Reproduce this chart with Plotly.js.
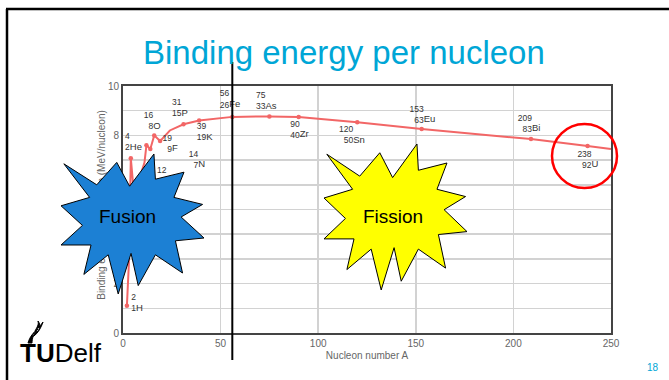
<!DOCTYPE html>
<html><head><meta charset="utf-8">
<script src="https://cdn.plot.ly/plotly-3.0.1.min.js"></script>
<style>html,body{margin:0;padding:0;background:#fff;overflow:hidden}#chart{width:669px;height:380px}</style>
</head><body><div id="chart"></div>
<script>
// ---- data ----
const curveA = [2, 3, 4, 6, 7, 9, 11, 12, 14, 16, 19, 24, 31, 39, 56, 75, 90, 120, 153, 209, 238, 250];
const curveB = [1.1, 2.8, 7.07, 5.3, 5.6, 6.4, 6.9, 7.6, 7.45, 8.0, 7.77, 8.2, 8.45, 8.6, 8.75, 8.77, 8.74, 8.53, 8.26, 7.85, 7.57, 7.45];
const isoA = [2, 4, 12, 14, 16, 19, 31, 39, 56, 75, 90, 120, 153, 209, 238];
const isoZ = [1, 2, 6, 7, 8, 9, 15, 19, 26, 33, 40, 50, 63, 83, 92];
const isoSym = ['H', 'He', 'C', 'N', 'O', 'F', 'P', 'K', 'Fe', 'As', 'Zr', 'Sn', 'Eu', 'Bi', 'U'];
const xTickVals = [0, 50, 100, 150, 200, 250];
const yTickVals = [0, 1, 2, 3, 4, 5, 6, 7, 8, 9, 10];
const yTickText = ['0', '', '2', '', '4', '', '6', '', '8', '', '10'];
const chartTitle = 'Binding energy per nucleon';
const xTitle = 'Nucleon number A';
const yTitle = 'Binding energy per nucleon (MeV/nucleon)';
const ironA = 56;

// ---- layout helpers ----
const W = 669, H = 380, M = {l: 123, r: 58, t: 86, b: 47};
const PW = W - M.l - M.r, PH = H - M.t - M.b;
const XR = [0, 250], YR = [0, 10];
const kx = PW / (XR[1] - XR[0]), ky = PH / (YR[1] - YR[0]);
const px = v => (v - M.l) / PW;
const py = v => (H - M.b - v) / PH;

// label offsets in pixels (right edge / centre of the number block, relative to point; +y = down)
const labelOff = {H:[9,-2], He:[-1,-16], C:[20,31], N:[48,11], O:[-1,-14], F:[12,3], P:[-2,-16], K:[7,12],
  Fe:[-3,-17], As:[-4,-15], Zr:[1,13], Sn:[-4,13], Eu:[2,-14], Bi:[1,-15], U:[4,14]};

const isoB = isoA.map(a => curveB[curveA.indexOf(a)]);
const redCol = '#f26666';
const labFont = 'Liberation Sans, Arial';

const traces = [
  {x: curveA, y: curveB, mode: 'lines', line: {color: redCol, width: 2}, hoverinfo: 'skip'},
  {x: isoA, y: isoB, mode: 'markers', marker: {color: redCol, size: 4.5}, hoverinfo: 'skip'},
  {x: isoA.map((a, i) => a + labelOff[isoSym[i]][0] / kx),
   y: isoB.map((b, i) => b - labelOff[isoSym[i]][1] / ky),
   text: isoA.map((a, i) => a + '<br>' + isoZ[i]),
   mode: 'text', textposition: 'middle left',
   textfont: {family: labFont, size: 8.5, color: '#333'}, hoverinfo: 'skip'},
  {x: isoA.map((a, i) => a + labelOff[isoSym[i]][0] / kx),
   y: isoB.map((b, i) => b - (labelOff[isoSym[i]][1] + 5) / ky),
   text: isoSym, mode: 'text', textposition: 'middle right',
   textfont: {family: labFont, size: 9.5, color: '#333'}, hoverinfo: 'skip'}
];

// star outline (normalised to its bounding box)
const starShape = [[0.02,0.07],[0.25,0.22],[0.39,0.06],[0.48,0.23],[0.65,0.0],[0.66,0.18],[0.86,0.13],[0.79,0.31],
  [0.99,0.36],[0.84,0.45],[1.0,0.60],[0.80,0.62],[0.85,0.85],[0.66,0.72],[0.54,0.94],[0.49,0.71],[0.40,1.0],
  [0.33,0.72],[0.16,0.86],[0.21,0.65],[0.0,0.65],[0.15,0.51],[0.0,0.37],[0.20,0.31]];
function starPath(x0, y0, x1, y1) {
  return starShape.map((p, i) => (i ? 'L' : 'M') + px(x0 + p[0] * (x1 - x0)).toFixed(4) + ',' + py(y0 + p[1] * (y1 - y0)).toFixed(4)).join(' ') + ' Z';
}
function pathPx(pts) {
  return pts.map(s => s.replace(/(-?[\d.]+),(-?[\d.]+)/g, (m, a, b) => px(+a).toFixed(4) + ',' + py(+b).toFixed(4))).join(' ');
}

const shapes = [
  // y-axis title (drawn as shape label so the star can cover it)
  {type: 'rect', xref: 'paper', yref: 'paper', x0: px(94), x1: px(106), y0: py(312), y1: py(98),
   line: {color: 'rgba(0,0,0,0)', width: 0}, fillcolor: 'rgba(0,0,0,0)',
   label: {text: yTitle, textangle: -90, textposition: 'middle center', font: {family: labFont, size: 10, color: '#666'}}},
  // slide frame
  {type: 'line', xref: 'paper', yref: 'paper', x0: px(7), x1: px(7), y0: py(381), y1: py(9), line: {color: '#000', width: 2.5}},
  {type: 'line', xref: 'paper', yref: 'paper', x0: px(6), x1: px(670), y0: py(9), y1: py(9), line: {color: '#000', width: 2.5}},
  // iron divider
  {type: 'line', xref: 'x', yref: 'paper', x0: ironA, x1: ironA, y0: py(62), y1: py(360), line: {color: '#000', width: 2}},
  // stars
  {type: 'path', xref: 'paper', yref: 'paper', path: starPath(61, 154, 204, 294), fillcolor: '#1c80d4', line: {color: '#000', width: 1}},
  {type: 'path', xref: 'paper', yref: 'paper', path: starPath(324, 144, 467, 290), fillcolor: '#ffff00', line: {color: '#000', width: 1}},
  // red circle
  {type: 'circle', xref: 'paper', yref: 'paper', x0: px(552), x1: px(617), y0: py(188), y1: py(124), line: {color: '#ff0000', width: 2.5}},
  // TU Delft flame
  {type: 'path', xref: 'paper', yref: 'paper', fillcolor: '#000', line: {color: '#000', width: 1},
   path: pathPx(['M 28,343', 'C 30,336 34,332 38,329', 'C 34,333 32,338 32,343', 'Z',
                 'M 32,336', 'C 35,330 40,327 43,322', 'C 41,328 38,333 34,336', 'Z',
                 'M 35,331', 'C 37,327 39,325 38,321', 'C 41,325 40,329 37,332', 'Z'])}
];

const annotations = [
  {xref: 'paper', yref: 'paper', x: px(344), y: py(52), text: chartTitle, showarrow: false,
   font: {family: labFont, size: 33, color: '#00a6d6'}, xanchor: 'center', yanchor: 'middle'},
  {xref: 'paper', yref: 'paper', x: px(127), y: py(216), text: 'Fusion', showarrow: false,
   font: {family: labFont, size: 19, color: '#000'}, xanchor: 'center', yanchor: 'middle'},
  {xref: 'paper', yref: 'paper', x: px(393), y: py(216), text: 'Fission', showarrow: false,
   font: {family: labFont, size: 19, color: '#000'}, xanchor: 'center', yanchor: 'middle'},
  {xref: 'paper', yref: 'paper', x: px(18), y: py(353), text: '<b>TU</b>Delf', showarrow: false,
   font: {family: labFont, size: 26, color: '#000'}, xanchor: 'left', yanchor: 'middle'},
  {xref: 'paper', yref: 'paper', x: px(653), y: py(367), text: '18', showarrow: false,
   font: {family: labFont, size: 10, color: '#00a6d6'}, xanchor: 'center', yanchor: 'middle'}
];

const layout = {
  width: W, height: H, margin: M, paper_bgcolor: '#fff', plot_bgcolor: '#fff', showlegend: false,
  font: {family: labFont},
  xaxis: {range: XR, tickvals: xTickVals, ticks: '', showgrid: true, gridcolor: '#d2d2d2', gridwidth: 1.5,
    showline: true, linecolor: '#444', linewidth: 2, mirror: true, zeroline: false, fixedrange: true,
    tickfont: {size: 10, color: '#666'}, automargin: false,
    title: {text: xTitle, font: {size: 10, color: '#666'}, standoff: 4}},
  yaxis: {range: YR, tickvals: yTickVals, ticktext: yTickText, ticks: '', showgrid: true, gridcolor: '#d2d2d2', gridwidth: 1.5,
    showline: true, linecolor: '#444', linewidth: 2, mirror: true, zeroline: false, fixedrange: true,
    tickfont: {size: 10, color: '#666'}, automargin: false},
  shapes: shapes, annotations: annotations
};

Plotly.newPlot('chart', traces, layout, {displayModeBar: false, staticPlot: true});
</script></body></html>
